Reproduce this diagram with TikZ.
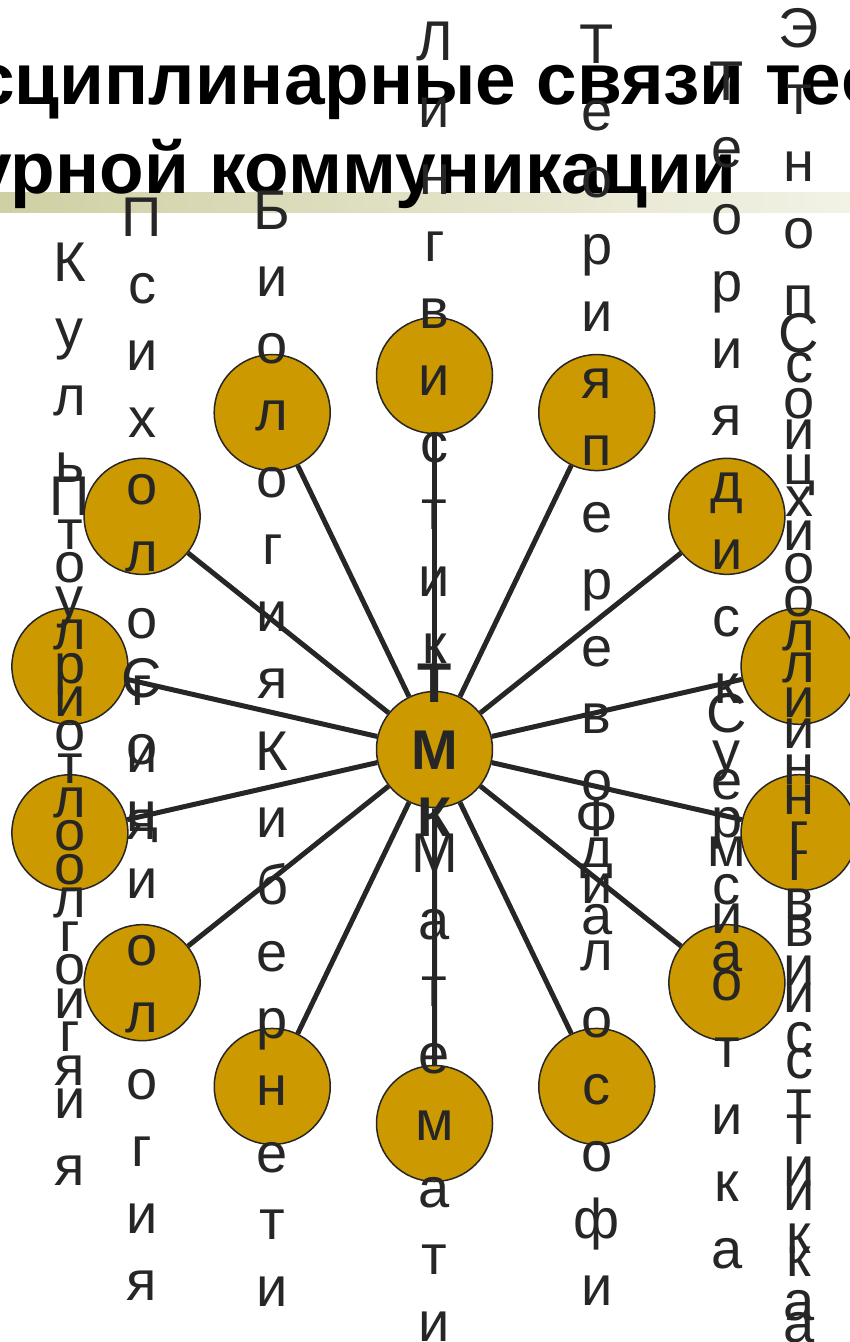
\documentclass[tikz,border=0pt]{standalone}
\usepackage{fontspec}
\setmainfont{Liberation Sans}
\usetikzlibrary{calc}
\definecolor{gold}{HTML}{CC9900}
\definecolor{ink}{HTML}{262626}
\definecolor{bandL}{RGB}{208,208,165}
\definecolor{bandR}{RGB}{242,242,230}
\pgfdeclarelayer{back}
\pgfdeclarelayer{front}
\pgfsetlayers{back,main,front}
\tikzset{
LEAF/.style={circle,draw=ink,line width=1.5pt,fill=gold,minimum size=116pt,inner sep=0pt},
LINK/.style={draw=ink,line width=5pt},
GLYPH/.style={anchor=base,inner sep=0pt,text=ink,font=\fontsize{56}{67}\selectfont},
HEAD/.style={anchor=base west,inner sep=0pt,text=black,font=\bfseries\fontsize{73}{88}\selectfont},
}
% letters of a name stacked one under the other, over its circle
\newcommand\vword[5][]{%
  \foreach \letr [count=\i] in {#5} {
    \pgfmathsetmacro\yy{#3+(\i-1)*#4}
    \node[GLYPH,#1] (#2-\i) at (#2 |- 0,\yy) {\letr};
  }}

\begin{document}
\begin{tikzpicture}[x=1pt,y=-1pt] %radial scheme
	\useasboundingbox (0,0) rectangle (850,1342);
	\begin{pgfonlayer}{front}
		\node[LEAF] (hub) at (434.5,749.5) {};
		\vword[font=\bfseries\fontsize{56}{67}\selectfont]{hub}{702}{67}{Т,М,К}
	\end{pgfonlayer}
	\foreach \nm [count=\k from 0] in {ling,transl,discourse,ethno,socling,semio,philo,math,cyber,socio,polit,cult,psych,bio}
		\node[LEAF] (\nm) at ($(hub)+(-90+\k*25.714:374)$) {};
	\begin{pgfonlayer}{back}
		\shade[left color=bandL,right color=bandR] (0,192) rectangle (850,212);
		\node[HEAD] (head1) at (-26,104) {\llap{Межди}сциплинарные связи теории};
		\node[HEAD] (head2) at (-29,193) {\llap{межкульт}урной коммуникации};
		\foreach \nm in {ling,transl,discourse,ethno,socling,semio,philo,math,cyber,socio,polit,cult,psych,bio}
			\draw[LINK] (hub) -- (\nm);
	\end{pgfonlayer}
	\vword{ling}{60}{67}{Л,и,н,г,в,и,с,т,и,к,а}
	\vword{transl}{63}{67}{Т,е,о,р,и,я,п,е,р,е,в,о,д,а}
	\vword{discourse}{100}{67}{Т,е,о,р,и,я,д,и,с,к,у,р,с,а}
	\vword{ethno}{47}{67}{Э,т,н,о,п,с,и,х,о,л,и,н,г,в,и,с,т,и,к,а}
	\vword{socling}{352}{66}{С,о,ц,и,о,л,и,н,г,в,и,с,т,и,к,а}
	\vword{semio}{732}{67}{С,е,м,и,о,т,и,к,а}
	\vword{philo}{836}{67}{Ф,и,л,о,с,о,ф,и,я}
	\vword{math}{872}{67}{М,а,т,е,м,а,т,и,к,а}
	\vword{cyber}{770}{67}{К,и,б,е,р,н,е,т,и,к,а}
	\vword{socio}{697}{67}{С,о,ц,и,о,л,о,г,и,я}
	\vword{polit}{515}{67}{П,о,л,и,т,о,л,о,г,и,я}
	\vword{cult}{281}{67}{К,у,л,ь,т,у,р,о,л,о,г,и,я}
	\vword{psych}{236}{67}{П,с,и,х,о,л,о,г,и,я}
	\vword{bio}{229}{67}{Б,и,о,л,о,г,и,я}
\end{tikzpicture}
\end{document}
